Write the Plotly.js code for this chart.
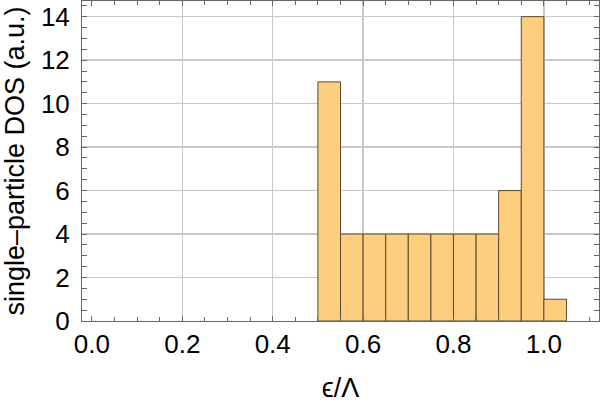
<!DOCTYPE html>
<html>
<head>
<meta charset="utf-8">
<script src="https://cdn.plot.ly/plotly-3.0.1.min.js"></script>
<style>html,body{margin:0;padding:0;background:#fff;}#chart{width:600px;height:403px;}</style>
</head>
<body>
<div id="chart"></div>
<script>
// Histogram bins (left edges), bin width and counts
const binStarts = [0.50, 0.55, 0.60, 0.65, 0.70, 0.75, 0.80, 0.85, 0.90, 0.95, 1.00];
const binWidth = 0.05;
const counts = [11, 4, 4, 4, 4, 4, 4, 4, 6, 14, 1];
const xTickVals = [0.0, 0.2, 0.4, 0.6, 0.8, 1.0];
const xTickText = ["0.0", "0.2", "0.4", "0.6", "0.8", "1.0"];
const xGridVals = [0.2, 0.4, 0.6, 0.8, 1.0];
const yTickVals = [0, 2, 4, 6, 8, 10, 12, 14];
const yTickText = ["0", "2", "4", "6", "8", "10", "12", "14"];

const tickFont = {family: "Liberation Sans, Arial, sans-serif", size: 26, color: "#000"};
const titleFont = {family: "Liberation Sans, Arial, sans-serif", size: 27, color: "#000"};
const frame = "#666666";

const data = [{
  type: "bar",
  x: binStarts,
  y: counts,
  width: binStarts.map(() => binWidth),
  offset: 0,
  marker: {color: "#FCCE7E", line: {color: "#5a4a32", width: 1}},
  hoverinfo: "skip"
}];

const layout = {
  width: 600, height: 403,
  margin: {l: 82, r: 1, t: 1, b: 82, pad: 0},
  paper_bgcolor: "#fff", plot_bgcolor: "#fff",
  showlegend: false,
  bargap: 0,
  font: tickFont,
  xaxis: {
    range: [-0.022, 1.122],
    tickvals: xTickVals, ticktext: xTickText,
    ticks: "inside", ticklen: 5, tickcolor: frame, tickwidth: 1,
    minor: {dtick: 0.05, tick0: 0, ticks: "inside", ticklen: 4, tickcolor: frame, showgrid: false},
    showgrid: false, zeroline: false,
    showline: true, linecolor: frame, linewidth: 1, mirror: "allticks",
    tickfont: tickFont, ticklabelstandoff: 0,
    title: {text: "ϵ/Λ", font: titleFont, standoff: 22}
  },
  xaxis2: {
    overlaying: "x", matches: "x",
    tickvals: xGridVals, showticklabels: false, ticks: "",
    showgrid: true, gridcolor: "#c8c8c8", gridwidth: 1.5, zeroline: false, showline: false
  },
  yaxis: {
    range: [0, 14.72],
    tickvals: yTickVals, ticktext: yTickText,
    ticks: "inside", ticklen: 5, tickcolor: frame, tickwidth: 1,
    minor: {dtick: 0.5, tick0: 0, ticks: "inside", ticklen: 4, tickcolor: frame, showgrid: false},
    showgrid: true, gridcolor: "#c8c8c8", gridwidth: 1.5, zeroline: false,
    showline: true, linecolor: frame, linewidth: 1, mirror: "allticks",
    tickfont: tickFont, ticklabelstandoff: 6,
    title: {text: "single\u2013particle DOS (a.u.)", font: titleFont, standoff: 8}
  }
};

// invisible helper trace so the grid-only overlay axis is drawn
data.push({type: "scatter", x: [0], y: [0], xaxis: "x2", yaxis: "y", mode: "markers", marker: {opacity: 0}, hoverinfo: "skip"});

Plotly.newPlot("chart", data, layout, {staticPlot: true, displayModeBar: false});
</script>
</body>
</html>
